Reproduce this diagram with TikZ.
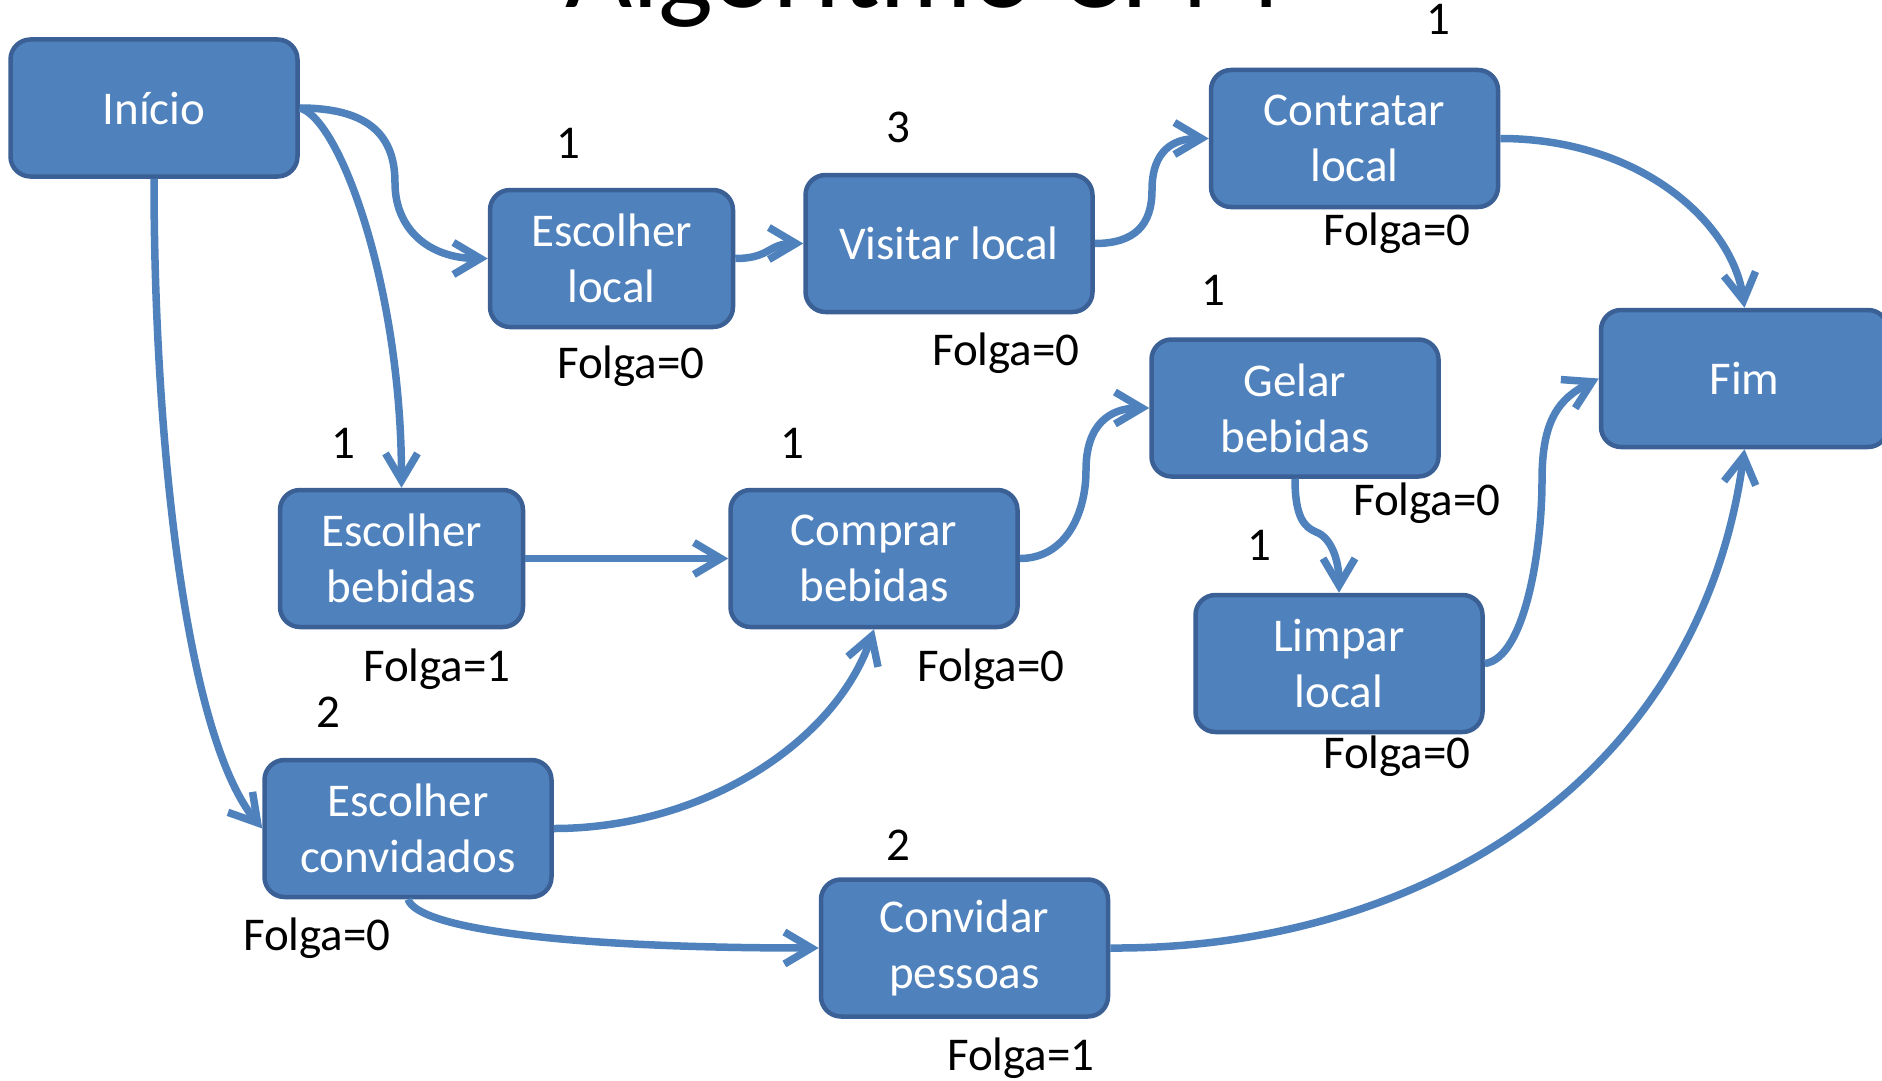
\documentclass[tikz,border=0pt]{standalone}
\usepackage{fontspec}
\setmainfont{Carlito}
\usetikzlibrary{arrows.meta}
\definecolor{boxfill}{HTML}{4F81BD}
\definecolor{boxline}{HTML}{3B6096}
\definecolor{flowcol}{HTML}{4F81BD}
\begin{document}
\begin{tikzpicture}[x=1pt,y=-1pt,
  task/.style={draw=boxline, line width=4.5pt, fill=boxfill, rounded corners=20pt,
    text=white, align=center, inner sep=0pt, minimum width=287pt, minimum height=137pt,
    font=\fontsize{47}{56}\selectfont},
  narrow/.style={task, minimum width=243pt},
  dur/.style={anchor=base, inner sep=0pt, font=\fontsize{47}{52}\selectfont},
  slack/.style={anchor=base, inner sep=0pt, font=\fontsize{47}{52}\selectfont},
  flow/.style={draw=flowcol, line width=7.5pt,
    -{Straight Barb[length=27pt, width=32pt, line width=7.5pt]}}]
\useasboundingbox (0,0) rectangle (1882,1081);
\clip (0,0) rectangle (1882,1081);

% title (its upper part lies above the page)
\node[anchor=base, inner sep=0pt, font=\fontsize{116}{120}\selectfont] (title) at (923,8) {Algoritmo CPM};

% activities
\node[task]   (inicio) at (154,108)    {Início};
\node[narrow] (escL)   at (611.5,258.5) {Escolher\\local};
\node[task]   (visit)  at (949,243.5)  {Visitar local};
\node[task]   (contr)  at (1354.5,138.5) {Contratar\\local};
\node[task]   (fim)    at (1744.5,378.5) {Fim};
\node[task]   (gelar)  at (1295,408)   {Gelar\\bebidas};
\node[narrow] (escB)   at (401.5,558.5) {Escolher\\bebidas};
\node[task]   (compr)  at (874,558.5)  {Comprar\\bebidas};
\node[task]   (limpar) at (1339,663.5) {Limpar\\local};
\node[task]   (escC)   at (408,828.5)  {Escolher\\convidados};
\node[task]   (conv)   at (964.5,948)  {Convidar\\pessoas};

% durations
\node[dur] (dEscL)   at (568,158)  {1};
\node[dur] (dVisit)  at (898,142)  {3};
\node[dur] (dContr)  at (1438,35)  {1};
\node[dur] (dGelar)  at (1213,305) {1};
\node[dur] (dEscB)   at (343,458)  {1};
\node[dur] (dCompr)  at (792,458)  {1};
\node[dur] (dLimpar) at (1259,560) {1};
\node[dur] (dEscC)   at (328,727)  {2};
\node[dur] (dConv)   at (898,860)  {2};

% slack values
\node[slack] (fEscL)   at (631,378)  {Folga=0};
\node[slack] (fVisit)  at (1006,365) {Folga=0};
\node[slack] (fContr)  at (1397,245) {Folga=0};
\node[slack] (fGelar)  at (1427,515) {Folga=0};
\node[slack] (fEscB)   at (437,681)  {Folga=1};
\node[slack] (fCompr)  at (991,681)  {Folga=0};
\node[slack] (fLimpar) at (1397,768) {Folga=0};
\node[slack] (fEscC)   at (317,950)  {Folga=0};
\node[slack] (fConv)   at (1021,1070) {Folga=1};

% bend points of the S-shaped connectors
\coordinate (ka) at (395,183);
\coordinate (ke) at (1152,190);
\coordinate (kh) at (1086,470);
\coordinate (ki) at (1316,532);
\coordinate (kj) at (1542,480);

% dependencies
\draw[flow] (inicio.east) .. controls +(72,0) and +(0,-45) .. (ka)
            .. controls +(0,45) and +(-60,0) .. (escL.west);
\draw[flow] (inicio.east) .. controls +(40,10) and +(0,-200) .. (escB.north);
\draw[flow] (inicio.south) .. controls +(0,270) and +(-75,-90) .. (escC.west);
\draw[flow] (escL.east) .. controls +(35,0) and +(-35,0) .. (visit.west);
\draw[flow] (visit.east) .. controls +(40,0) and +(0,35) .. (ke)
            .. controls +(0,-40) and +(-35,0) .. (contr.west);
\draw[flow] (contr.east) .. controls +(140,0) and +(-12,-85) .. (fim.north);
\draw[flow] (escB.east) -- (compr.west);
\draw[flow] (compr.east) .. controls +(45,0) and +(0,45) .. (kh)
            .. controls +(0,-45) and +(-40,0) .. (gelar.west);
\draw[flow] (gelar.south) .. controls +(0,38) and +(-12,-5) .. (ki)
            .. controls +(14,5) and +(0,-35) .. (limpar.north);
\draw[flow] (limpar.east) .. controls +(40,-5) and +(0,70) .. (kj)
            .. controls +(0,-60) and +(-40,20) .. (fim.west);
\draw[flow] (escC.east) .. controls +(148,0) and +(-39,114) .. (compr.south);
\draw[flow] (escC.south) .. controls +(10,30) and +(-250,0) .. (conv.west);
\draw[flow] (conv.east) .. controls +(310,2) and +(-45,330) .. (fim.south);
\end{tikzpicture}
\end{document}
